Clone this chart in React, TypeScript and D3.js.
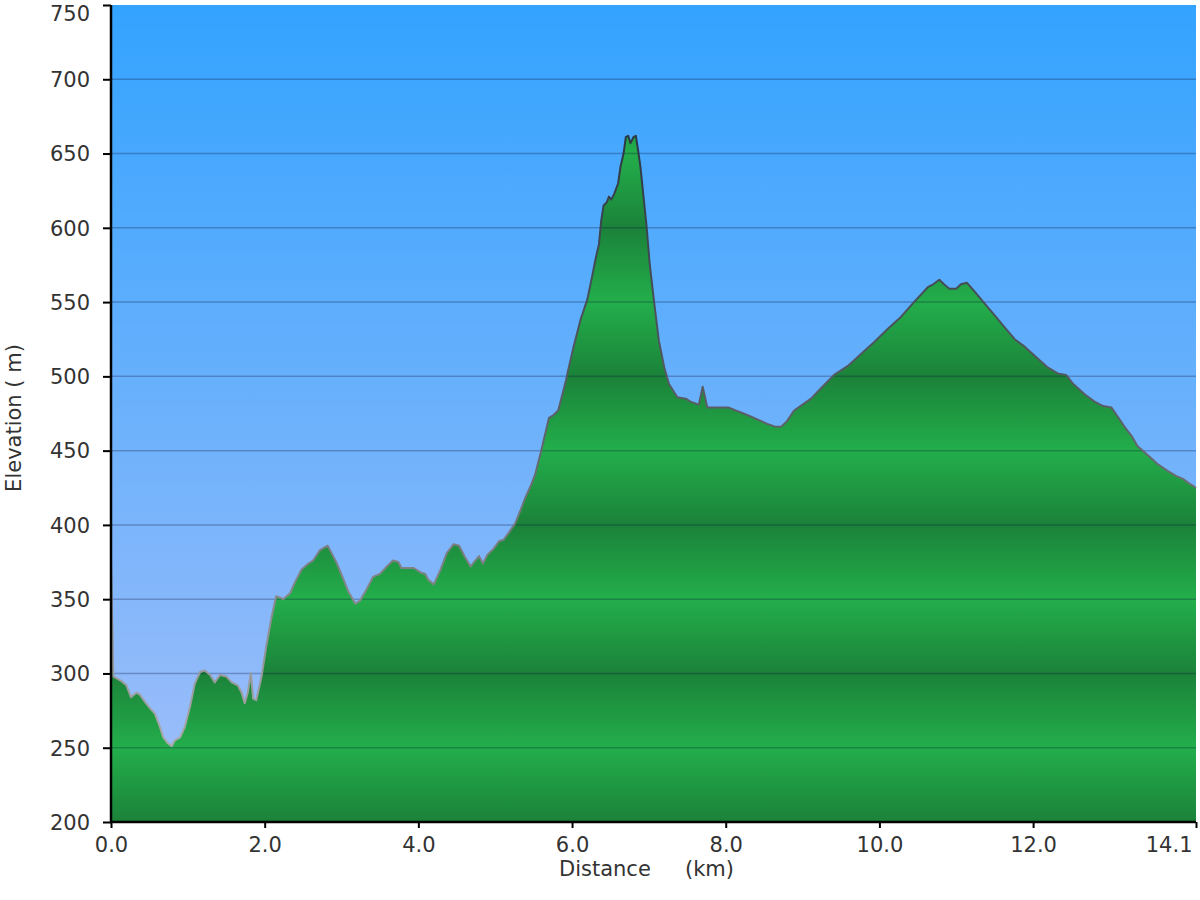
import React, { useEffect, useRef } from 'react';
import * as d3 from 'd3';

// elevation profile
const distances = [
  0.0, 0.03, 0.13, 0.2, 0.26, 0.33, 0.37, 0.44, 0.5, 0.57, 0.63, 0.68, 0.74, 0.79, 0.83, 0.9, 0.96,
  1.03, 1.09, 1.16, 1.22, 1.29, 1.35, 1.42, 1.5, 1.57, 1.65, 1.7, 1.74, 1.78, 1.82, 1.85, 1.89, 1.96,
  2.02, 2.09, 2.15, 2.2, 2.24, 2.33, 2.39, 2.48, 2.57, 2.63, 2.72, 2.82, 2.86, 2.94,
  3.02, 3.09, 3.18, 3.24, 3.33, 3.41, 3.5, 3.59, 3.67, 3.74, 3.78, 3.87, 3.94,
  4.03, 4.09, 4.13, 4.2, 4.29, 4.37, 4.46, 4.53, 4.61, 4.68, 4.74, 4.79, 4.84, 4.9, 4.98,
  5.05, 5.11, 5.18, 5.26, 5.33, 5.39, 5.46, 5.52, 5.59, 5.64, 5.7, 5.76, 5.82, 5.87, 5.92, 5.94,
  6.02, 6.11, 6.2, 6.26, 6.31, 6.35, 6.38, 6.41, 6.45, 6.48, 6.51, 6.55, 6.6, 6.63, 6.67, 6.7,
  6.73, 6.76, 6.8, 6.83, 6.86, 6.89, 6.93, 6.97,
  7.01, 7.07, 7.13, 7.2, 7.26, 7.37, 7.48, 7.54, 7.65, 7.7, 7.76,
  8.04, 8.13, 8.28, 8.41, 8.54, 8.65, 8.72, 8.8, 8.89,
  9.0, 9.11, 9.24, 9.41, 9.59, 9.76, 9.93,
  10.11, 10.28, 10.45, 10.63, 10.7, 10.78, 10.84, 10.91,
  11.0, 11.06, 11.14, 11.24, 11.37, 11.5, 11.63, 11.76, 11.89,
  12.06, 12.19, 12.32, 12.43, 12.52, 12.67, 12.8, 12.91,
  13.02, 13.1, 13.19, 13.28, 13.36, 13.49, 13.62, 13.76, 13.86, 13.95,
  14.03, 14.12,
];

const elevations = [
  376, 298, 295, 292, 284, 287, 286, 281, 277, 273, 265, 257, 253, 251, 255, 257, 264,
  278, 293, 301, 302, 299, 294, 299, 298, 294, 292, 287, 280, 287, 300, 283, 282, 298,
  318, 338, 352, 351, 350, 354, 361, 370, 374, 376, 383, 386, 382, 374,
  364, 355, 347, 349, 357, 365, 367, 372, 376, 375, 371, 371, 371,
  368, 367, 363, 360, 370, 381, 387, 386, 378, 372, 376, 379, 374, 380, 384,
  389, 390, 395, 401, 410, 418, 426, 434, 448, 459, 472, 474, 477, 487, 497, 502,
  520, 538, 552, 567, 580, 589, 605, 615, 617, 621, 619, 623, 630, 641, 650, 661,
  662, 657, 661, 662, 652, 641, 621, 601,
  576, 549, 524, 506, 495, 486, 485, 483, 481, 493, 479,
  479, 477, 474, 471, 468, 466, 466, 470, 477,
  481, 485, 492, 501, 507, 515, 523,
  532, 540, 550, 560, 562, 565, 562, 559,
  559, 562, 563, 557, 549, 541, 533, 525, 520,
  512, 506, 502, 501, 495, 488, 483, 480,
  479, 473, 466, 460, 453, 447, 441, 436, 433, 431,
  428, 425,
];

const yTicks = [200, 250, 300, 350, 400, 450, 500, 550, 600, 650, 700, 750];
const xTicks = [0, 2, 4, 6, 8, 10, 12, 14.12];

const W = 1200;
const H = 900;
const FONT = '"DejaVu Sans", Verdana, sans-serif';

const App: React.FC = () => {
  const svgRef = useRef<SVGSVGElement>(null);

  useEffect(() => {
    if (!svgRef.current) return;
    const svg = d3.select(svgRef.current);
    svg.selectAll('*').remove();

    const left = 111, right = 1196, top = 5, bottom = 822;
    const x = d3.scaleLinear().domain([0, 14.12]).range([left, right]);
    const y = d3.scaleLinear().domain([200, 750]).range([bottom, top]);
    const points = distances.map((d, i) => [d, elevations[i]] as [number, number]);

    const defs = svg.append('defs');

    const sky = defs.append('linearGradient')
      .attr('id', 'sky').attr('x1', 0).attr('y1', 0).attr('x2', 0).attr('y2', 1);
    sky.append('stop').attr('offset', 0).attr('stop-color', '#33a3ff');
    sky.append('stop').attr('offset', 1).attr('stop-color', '#a4bff9');

    // green bands: dark on every 100 m, light on the 50s
    const bands = defs.append('linearGradient')
      .attr('id', 'bands')
      .attr('gradientUnits', 'userSpaceOnUse')
      .attr('spreadMethod', 'reflect')
      .attr('x1', 0).attr('x2', 0)
      .attr('y1', y(500)).attr('y2', y(450));
    bands.append('stop').attr('offset', 0).attr('stop-color', '#1b8239');
    bands.append('stop').attr('offset', 1).attr('stop-color', '#23ae4b');

    const edge = defs.append('linearGradient')
      .attr('id', 'edge')
      .attr('gradientUnits', 'userSpaceOnUse')
      .attr('x1', 0).attr('x2', 0)
      .attr('y1', y(660)).attr('y2', y(250));
    edge.append('stop').attr('offset', 0).attr('stop-color', '#2c3844');
    edge.append('stop').attr('offset', 0.45).attr('stop-color', '#5a5f66');
    edge.append('stop').attr('offset', 1).attr('stop-color', '#a9a9a9');

    svg.append('rect')
      .attr('x', left).attr('y', top)
      .attr('width', right - left).attr('height', bottom - top)
      .attr('fill', 'url(#sky)');

    const area = d3.area<[number, number]>()
      .x(d => x(d[0]))
      .y0(bottom)
      .y1(d => y(d[1]));

    svg.append('path')
      .datum(points)
      .attr('d', area)
      .attr('fill', 'url(#bands)');

    // grid over sky and fill
    svg.append('g')
      .selectAll('line')
      .data(yTicks.filter(t => t > 200 && t < 750))
      .join('line')
      .attr('x1', left).attr('x2', right)
      .attr('y1', d => y(d)).attr('y2', d => y(d))
      .attr('stroke', 'rgba(10,20,60,0.28)')
      .attr('stroke-width', 1.5);

    const line = d3.line<[number, number]>()
      .x(d => x(d[0]))
      .y(d => y(d[1]));

    svg.append('path')
      .datum(points)
      .attr('d', line)
      .attr('fill', 'none')
      .attr('stroke', 'url(#edge)')
      .attr('stroke-width', 2)
      .attr('stroke-linejoin', 'round');

    // axes
    const yAxis = svg.append('g')
      .attr('transform', `translate(${left},0)`)
      .call(d3.axisLeft(y).tickValues(yTicks).tickSize(8).tickPadding(13).tickFormat(d3.format('d')));
    yAxis.select('.domain').remove();
    yAxis.selectAll('.tick line').attr('stroke', '#000').attr('stroke-width', 2);
    yAxis.selectAll('.tick text')
      .attr('font-family', FONT)
      .attr('font-size', 21)
      .attr('fill', '#333')
      .attr('dy', (d: any) => (d === 750 ? '0.75em' : '0.35em'));

    const xAxis = svg.append('g')
      .attr('transform', `translate(0,${bottom})`)
      .call(d3.axisBottom(x).tickValues(xTicks).tickSize(6).tickPadding(9).tickFormat(d3.format('.1f')));
    xAxis.select('.domain').remove();
    xAxis.selectAll('.tick line').attr('stroke', '#000').attr('stroke-width', 2);
    xAxis.selectAll('.tick text')
      .attr('font-family', FONT)
      .attr('font-size', 21)
      .attr('fill', '#333');
    // last label sits left of its tick so it stays inside the picture
    xAxis.selectAll<SVGTextElement, number>('.tick text')
      .filter(d => d === 14.12)
      .attr('text-anchor', 'end')
      .attr('x', -4);

    svg.append('line')
      .attr('x1', left).attr('x2', left).attr('y1', top).attr('y2', bottom + 1)
      .attr('stroke', '#000').attr('stroke-width', 2.5);
    svg.append('line')
      .attr('x1', left - 1).attr('x2', right).attr('y1', bottom).attr('y2', bottom)
      .attr('stroke', '#000').attr('stroke-width', 2.5);

    const xTitle = svg.append('text')
      .attr('y', 876)
      .attr('font-family', FONT)
      .attr('font-size', 21)
      .attr('fill', '#333');
    xTitle.append('tspan').attr('x', 559).text('Distance');
    xTitle.append('tspan').attr('x', 685).text('(km)');

    svg.append('text')
      .attr('transform', `translate(21,418) rotate(-90)`)
      .attr('text-anchor', 'middle')
      .attr('font-family', FONT)
      .attr('font-size', 21)
      .attr('fill', '#333')
      .style('white-space', 'pre')
      .text('Elevation ( m)');
  }, []);

  return (
    <svg
      ref={svgRef}
      width={W}
      height={H}
      style={{ position: 'absolute', left: 0, top: 0, background: '#fff' }}
    />
  );
};

export default App;
